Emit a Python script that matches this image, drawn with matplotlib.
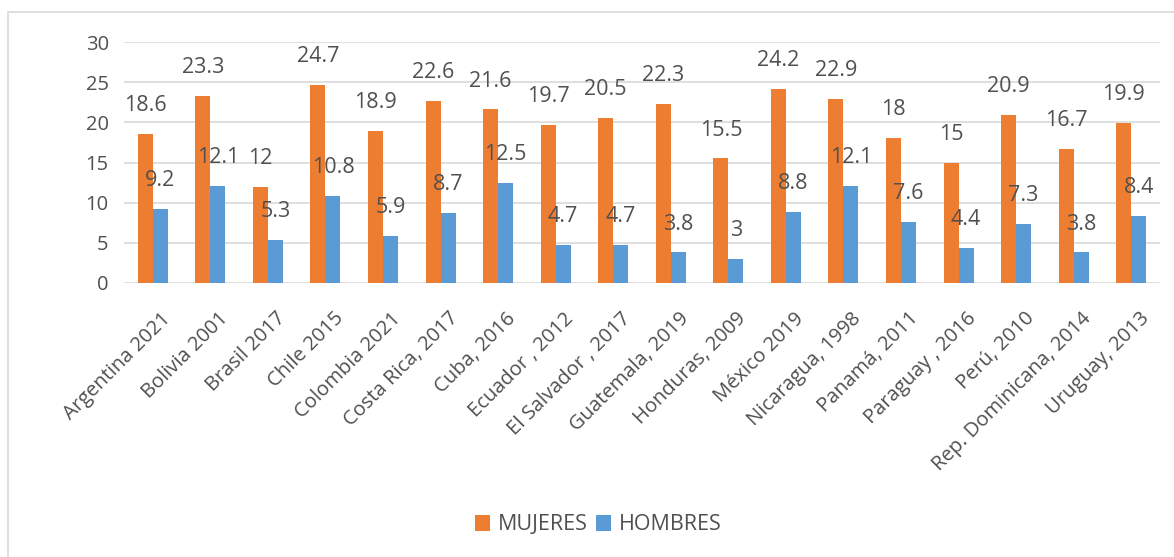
"""Bar chart: women vs men, by country and survey year."""

import matplotlib
matplotlib.use('Agg')
import matplotlib.pyplot as plt
import matplotlib.transforms as mtransforms
import numpy as np
from matplotlib.patches import Rectangle

paises = ['Argentina 2021', 'Bolivia 2001', 'Brasil 2017', 'Chile 2015',
          'Colombia 2021', 'Costa Rica, 2017', 'Cuba, 2016', 'Ecuador , 2012',
          'El Salvador , 2017', 'Guatemala, 2019', 'Honduras, 2009',
          'México 2019', 'Nicaragua, 1998', 'Panamá, 2011', 'Paraguay , 2016',
          'Perú, 2010', 'Rep. Dominicana, 2014', 'Uruguay, 2013']
mujeres = [18.6, 23.3, 12, 24.7, 18.9, 22.6, 21.6, 19.7, 20.5, 22.3, 15.5,
           24.2, 22.9, 18, 15, 20.9, 16.7, 19.9]
hombres = [9.2, 12.1, 5.3, 10.8, 5.9, 8.7, 12.5, 4.7, 4.7, 3.8, 3, 8.8,
           12.1, 7.6, 4.4, 7.3, 3.8, 8.4]
y_ticks = [0, 5, 10, 15, 20, 25, 30]

NARANJA = '#ED7D31'
AZUL = '#5B9BD5'
GRIS_TEXTO = '#505050'
GRIS_LINEA = '#D9D9D9'

plt.rcParams['font.family'] = ['Open Sans', 'DejaVu Sans']

fig = plt.figure(figsize=(11.74, 5.57), dpi=100)
fig.patches.append(Rectangle((8 / 1174, -0.05), 1.1, 0.05 + 1 - 12 / 557,
                             transform=fig.transFigure, fill=False,
                             edgecolor=GRIS_LINEA, linewidth=1.2))
ax = fig.add_axes([124 / 1174, 1 - 283 / 557, (1160 - 124) / 1174,
                   (283 - 42) / 557])

x = np.arange(len(paises))
w = 0.26
b1 = ax.bar(x - w / 2, mujeres, w, color=NARANJA, label='MUJERES', zorder=2)
b2 = ax.bar(x + w / 2, hombres, w, color=AZUL, label='HOMBRES', zorder=2)

# value labels sit a fixed distance above each bar
for barras, valores in ((b1, mujeres), (b2, hombres)):
    for rect, v in zip(barras, valores):
        ax.annotate(f'{v:g}', (rect.get_x() + rect.get_width() / 2, v),
                    xytext=(0, 20.5), textcoords='offset points',
                    ha='center', va='center', fontsize=15.5, color=GRIS_TEXTO,
                    zorder=3)

ax.set_xlim(-0.5, len(paises) - 0.5)
ax.set_ylim(0, 30)
ax.set_yticks(y_ticks)
ax.yaxis.grid(True, color=GRIS_LINEA, linewidth=1.2, zorder=0)
for s in ax.spines.values():
    s.set_visible(False)
ax.tick_params(length=0, colors=GRIS_TEXTO, labelsize=14.5)
ax.tick_params(axis='y', pad=11)
ax.set_xticks(x)
ax.set_xticklabels(paises, rotation=45, ha='right', rotation_mode='anchor',
                   va='center')
ax.tick_params(axis='x', pad=17)

# nudge the slanted labels so they end just right of each group
desplaza = mtransforms.ScaledTranslation(15 / 100, -9 / 100, fig.dpi_scale_trans)
for lbl in ax.get_xticklabels():
    lbl.set_transform(lbl.get_transform() + desplaza)

fig.legend(handles=[b1, b2], loc='center', bbox_to_anchor=(598 / 1174, 1 - 525 / 557),
           ncol=2, frameon=False, fontsize=15.5, handlelength=0.7,
           handleheight=0.7, handletextpad=0.35, columnspacing=0.4,
           labelcolor=GRIS_TEXTO)

fig.savefig('out.png', dpi=100)
